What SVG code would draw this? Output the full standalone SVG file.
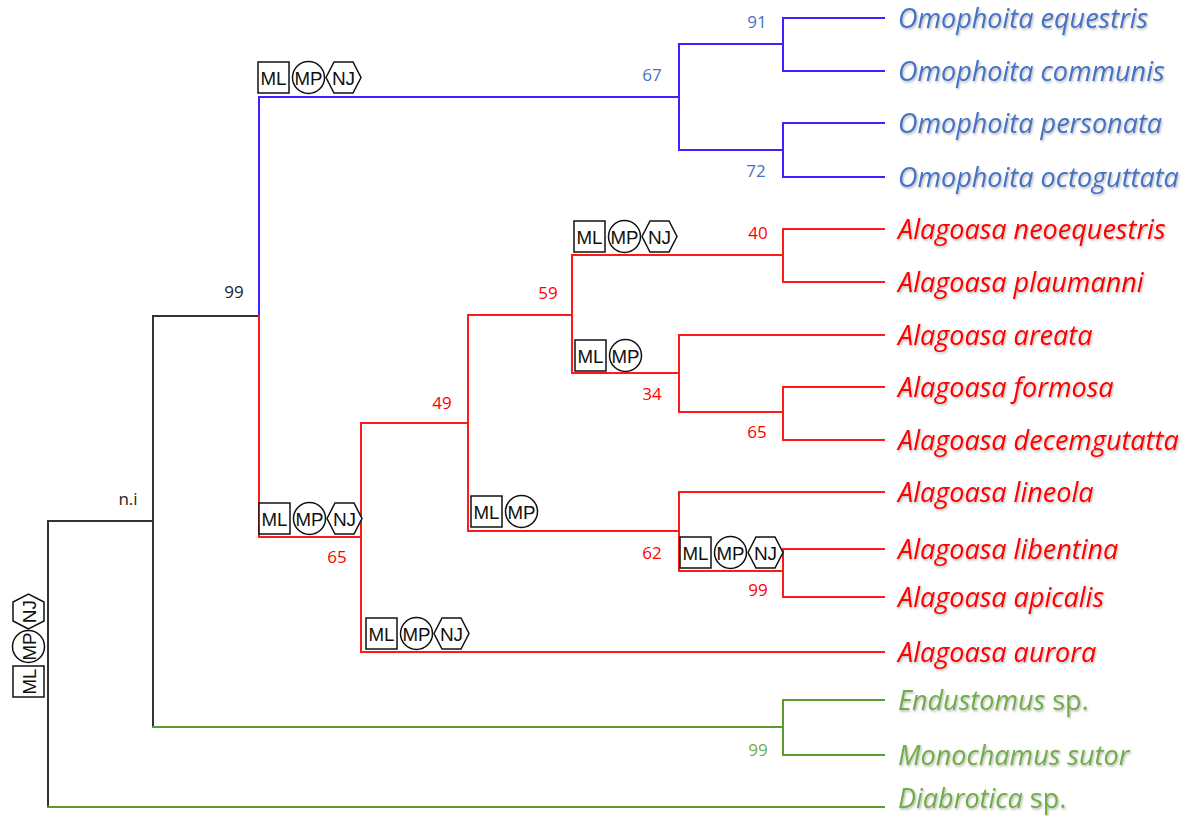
<svg xmlns="http://www.w3.org/2000/svg" xmlns:xlink="http://www.w3.org/1999/xlink" width="1196" height="816" viewBox="0 0 1196 816">
  <style>
    .br { fill: none; stroke-width: 2; stroke-linecap: square; }
    .k { stroke: #333333; }
    .b { stroke: #4020ff; }
    .r { stroke: #ff1a1a; }
    .g { stroke: #5b9b30; }
    .tx { font-family: "Open Sans", "Liberation Sans", sans-serif; font-size: 27px; filter: url(#shadow); }
    .it { font-style: italic; }
    .tb { fill: #4472c4; }
    .tr { fill: #ff0000; }
    .tg { fill: #70ad47; }
    .num { font-family: "Open Sans", "Liberation Sans", sans-serif; font-size: 17px; text-anchor: middle; }
    .nb { fill: #4472c4; }
    .nr { fill: #ff0000; }
    .ng { fill: #70ad47; }
    .nk { fill: #222222; }
    .bx { fill: #ffffff; stroke: #111111; stroke-width: 1.5; }
    .bt { font-family: "Liberation Sans", "Open Sans", sans-serif; font-size: 19px; text-anchor: middle; fill: #111111; }
  </style>
  <defs>
    <filter id="shadow" x="-5%" y="-30%" width="110%" height="160%">
      <feDropShadow dx="1" dy="1.5" stdDeviation="1" flood-color="#000000" flood-opacity="0.3"/>
    </filter>
    <!-- support badges: ML square, MP circle, NJ hexagon -->
    <g id="ml">
      <rect class="bx" x="0" y="0" width="31" height="31"/>
      <text class="bt" x="15.5" y="22.5" textLength="26" lengthAdjust="spacingAndGlyphs">ML</text>
    </g>
    <g id="mp">
      <circle class="bx" cx="50.5" cy="15.5" r="16"/>
      <text class="bt" x="50.5" y="22.5" textLength="28" lengthAdjust="spacingAndGlyphs">MP</text>
    </g>
    <g id="nj">
      <polygon class="bx" points="68,15.5 76,0 95,0 103,15.5 95,31 76,31"/>
      <text class="bt" x="85.5" y="22.5">NJ</text>
    </g>
    <g id="badge3"><use xlink:href="#ml"/><use xlink:href="#mp"/><use xlink:href="#nj"/></g>
    <g id="badge2"><use xlink:href="#ml"/><use xlink:href="#mp"/></g>
  </defs>

  <rect width="1196" height="816" fill="#ffffff"/>

  <g id="connectors">
    <!-- root and outgroups -->
    <path class="br k" d="M48,807 V521 H153"/>
    <path class="br k" d="M153,727 V316 H259"/>
    <path class="br g" d="M48,807 H884"/>
    <path class="br g" d="M153,727 H783 M783,700 V755 M783,700 H884 M783,755 H884"/>
    <!-- Omophoita -->
    <path class="br b" d="M259,316 V97 H679 M679,44 V150 M679,44 H783 M679,150 H783"/>
    <path class="br b" d="M783,18 V71 M783,18 H884 M783,71 H884"/>
    <path class="br b" d="M783,123 V177 M783,123 H884 M783,177 H884"/>
    <!-- Alagoasa -->
    <path class="br r" d="M259,316 V537 H361 M361,423 V652 M361,652 H884"/>
    <path class="br r" d="M361,423 H468 M468,315 V531"/>
    <path class="br r" d="M468,315 H572 M572,255 V373"/>
    <path class="br r" d="M572,255 H783 M783,229 V282 M783,229 H884 M783,282 H884"/>
    <path class="br r" d="M572,373 H679 M679,335 V412 M679,335 H884 M679,412 H783 M783,387 V440 M783,387 H884 M783,440 H884"/>
    <path class="br r" d="M468,531 H679 M679,492 V571 M679,492 H884 M679,571 H783 M783,549 V597 M783,549 H884 M783,597 H884"/>
  </g>

  <g id="support-values">
    <text class="num nb" x="757" y="28">91</text>
    <text class="num nb" x="652" y="81">67</text>
    <text class="num nb" x="756" y="177">72</text>
    <text class="num nr" x="758" y="239">40</text>
    <text class="num nr" x="548" y="299">59</text>
    <text class="num nr" x="652" y="400">34</text>
    <text class="num nr" x="757" y="438">65</text>
    <text class="num nr" x="442" y="409">49</text>
    <text class="num nr" x="652" y="559">62</text>
    <text class="num nr" x="758" y="596">99</text>
    <text class="num nr" x="337" y="563">65</text>
    <text class="num ng" x="758" y="756">99</text>
    <text class="num nk" x="234" y="298">99</text>
    <text class="num nk" x="128" y="505">n.i</text>
  </g>

  <g id="method-badges">
    <use xlink:href="#badge3" x="258" y="62"/>
    <use xlink:href="#badge3" x="574" y="221"/>
    <use xlink:href="#badge2" x="575" y="340"/>
    <use xlink:href="#badge3" x="259" y="503"/>
    <use xlink:href="#badge2" x="471" y="496"/>
    <use xlink:href="#badge3" x="680" y="537"/>
    <use xlink:href="#badge3" x="366" y="618"/>
    <g transform="translate(13,697) rotate(-90)"><use xlink:href="#badge3"/></g>
  </g>

  <g id="taxa">
    <g id="omophoita-equestris"><text class="tx it tb" x="898" y="28">Omophoita equestris</text></g>
    <g id="omophoita-communis"><text class="tx it tb" x="898" y="81">Omophoita communis</text></g>
    <g id="omophoita-personata"><text class="tx it tb" x="898" y="133">Omophoita personata</text></g>
    <g id="omophoita-octoguttata"><text class="tx it tb" x="898" y="187">Omophoita octoguttata</text></g>
    <g id="alagoasa-neoequestris"><text class="tx it tr" x="898" y="239">Alagoasa neoequestris</text></g>
    <g id="alagoasa-plaumanni"><text class="tx it tr" x="898" y="292">Alagoasa plaumanni</text></g>
    <g id="alagoasa-areata"><text class="tx it tr" x="898" y="345">Alagoasa areata</text></g>
    <g id="alagoasa-formosa"><text class="tx it tr" x="898" y="397">Alagoasa formosa</text></g>
    <g id="alagoasa-decemgutatta"><text class="tx it tr" x="898" y="450">Alagoasa decemgutatta</text></g>
    <g id="alagoasa-lineola"><text class="tx it tr" x="898" y="502">Alagoasa lineola</text></g>
    <g id="alagoasa-libentina"><text class="tx it tr" x="898" y="559">Alagoasa libentina</text></g>
    <g id="alagoasa-apicalis"><text class="tx it tr" x="898" y="607">Alagoasa apicalis</text></g>
    <g id="alagoasa-aurora"><text class="tx it tr" x="898" y="662">Alagoasa aurora</text></g>
    <g id="endustomus"><text class="tx tg" x="898" y="710"><tspan class="it">Endustomus</tspan> sp.</text></g>
    <g id="monochamus-sutor"><text class="tx it tg" x="898" y="765">Monochamus sutor</text></g>
    <g id="diabrotica"><text class="tx tg" x="898" y="808"><tspan class="it">Diabrotica</tspan> sp.</text></g>
  </g>
</svg>
